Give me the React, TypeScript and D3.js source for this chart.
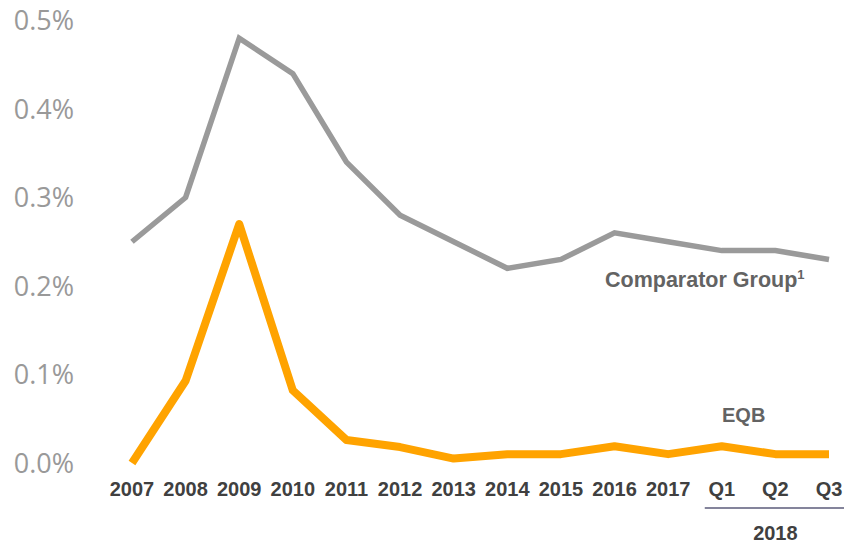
import * as d3 from 'd3';

const width = 844;
const height = 543;

const categories = ['2007', '2008', '2009', '2010', '2011', '2012', '2013', '2014', '2015', '2016', '2017', 'Q1', 'Q2', 'Q3'];
const comparator = [0.25, 0.30, 0.48, 0.44, 0.34, 0.28, 0.25, 0.22, 0.23, 0.26, 0.25, 0.24, 0.24, 0.23];
const eqb = [0.0, 0.093, 0.27, 0.082, 0.026, 0.018, 0.005, 0.01, 0.01, 0.019, 0.01, 0.019, 0.01, 0.01];
const yTicks = [0, 0.1, 0.2, 0.3, 0.4, 0.5];

const boldFont = 'Arial, "Liberation Sans", sans-serif';

export default function App() {
  const x = d3.scalePoint(categories, [132, 829]);
  const y = d3.scaleLinear([0, 0.5], [463, 20.5]);
  const line = d3.line<number>((_, i) => x(categories[i])!, (d) => y(d));
  //
  return (
    <svg width={width} height={height} style={{ position: 'absolute', left: 0, top: 0 }}>
      <rect width={width} height={height} fill="white" />

      {yTicks.map((t) => (
        <text
          key={t}
          x={74}
          y={y(t) + 9.5}
          textAnchor="end"
          fontSize={27}
          fontFamily='"Open Sans", sans-serif'
          fill="#999"
        >
          {d3.format('.1f')(t) + '%'}
        </text>
      ))}

      <path
        d={line(comparator) ?? ''}
        fill="none"
        stroke="#9a9a9a"
        strokeWidth={5.5}
      />
      <path
        d={line(eqb) ?? ''}
        fill="none"
        stroke="#ffa300"
        strokeWidth={8}
        strokeLinejoin="round"
      />

      {categories.map((c) => (
        <text
          key={c}
          x={x(c)}
          y={496}
          textAnchor="middle"
          fontSize={20}
          fontWeight="bold"
          fontFamily={boldFont}
          fill="#404040"
        >
          {c}
        </text>
      ))}

      <line x1={x('Q1')! - 17} x2={width} y1={508} y2={508} stroke="#5b5b7a" strokeWidth={1.5} />
      <text
        x={x('Q2')}
        y={540}
        textAnchor="middle"
        fontSize={20}
        fontWeight="bold"
        fontFamily={boldFont}
        fill="#404040"
      >
        2018
      </text>

      <text x={605} y={287} fontSize={21.5} fontWeight="bold" fontFamily={boldFont} fill="#636363">
        Comparator Group
        <tspan fontSize={13} dy={-8}>1</tspan>
      </text>
      <text x={722} y={422} fontSize={20} fontWeight="bold" fontFamily={boldFont} fill="#636363">
        EQB
      </text>
    </svg>
  );
}
